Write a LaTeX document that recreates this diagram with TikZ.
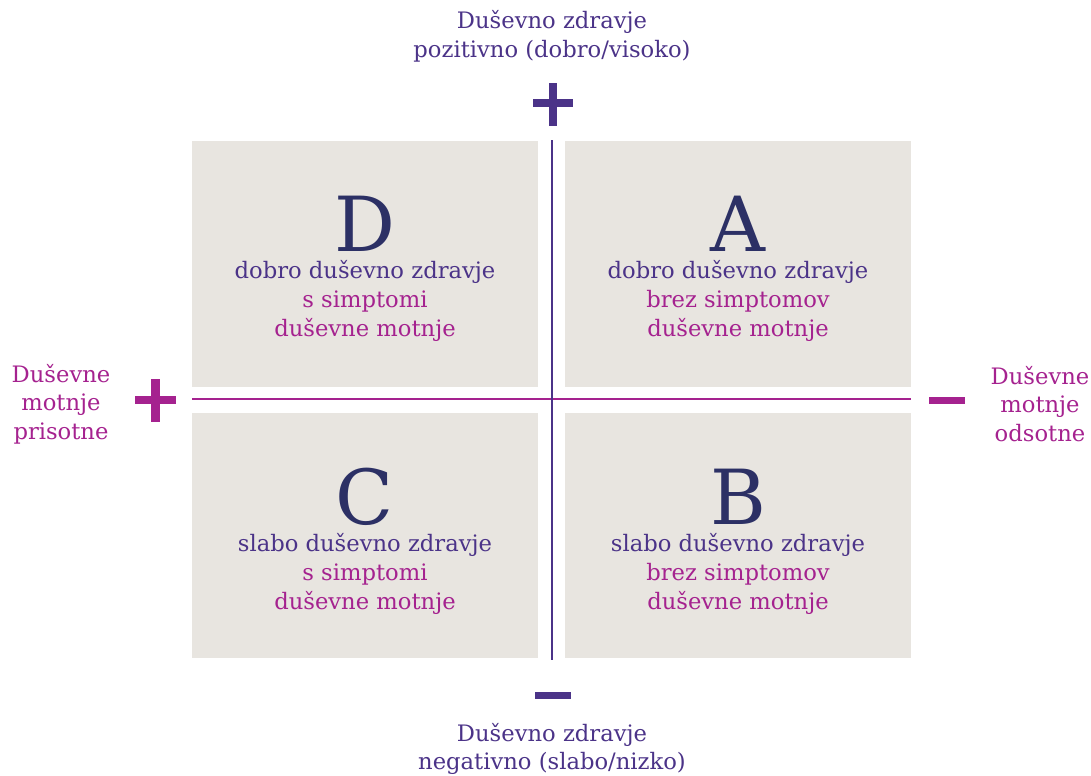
\documentclass[tikz,border=0pt]{standalone}
\usepackage{fontspec}
\setmainfont{DejaVu Serif}
\definecolor{violetT}{HTML}{4B3388}
\definecolor{magT}{HTML}{A5228F}
\definecolor{navyL}{HTML}{2C3065}
\definecolor{boxG}{HTML}{E8E5E0}
\begin{document}
\begin{tikzpicture}[x=0.75pt,y=-0.75pt,
  quad/.style={fill=boxG,draw=none},
  lab/.style={font=\fontsize{17}{21.5}\selectfont,align=center,inner sep=0pt},
  big/.style={font=\fontsize{57}{57}\selectfont,text=navyL,inner sep=0pt,anchor=base}]
\useasboundingbox (0,0) rectangle (1091,775);
% quadrants
\fill[quad] (192,141) rectangle (538,387);
\fill[quad] (565,141) rectangle (911,387);
\fill[quad] (192,413) rectangle (538,658);
\fill[quad] (565,413) rectangle (911,658);
% axes
\coordinate (vt) at (551.7,140);
\coordinate (vb) at (551.7,660);
\coordinate (hl) at (192,399);
\coordinate (hr) at (911,399);
\draw[magT,line width=1.2pt] (hl) -- (hr);
\draw[violetT,line width=1.4pt] (vt) -- (vb);
% signs
\fill[violetT] (533,99) rectangle (573,107);
\fill[violetT] (549,83) rectangle (557,126);
\fill[violetT] (535,692) rectangle (571,699);
\fill[magT] (135,396) rectangle (176,404);
\fill[magT] (151,379) rectangle (160,422);
\fill[magT] (929,397) rectangle (965,404);
% outer labels
\node[lab,text=violetT] (top) at (552,36) {Duševno zdravje\\pozitivno (dobro/visoko)};
\node[lab,text=violetT] (bot) at (552,749) {Duševno zdravje\\negativno (slabo/nizko)};
\node[lab,text=magT] (lft) at (61,404) {Duševne\\motnje\\prisotne};
\node[lab,text=magT] (rgt) at (1040,404) {Duševne\\motnje\\odsotne};
% big letters
\node[big] (D) at (365,251) {D};
\node[big] (A) at (738,251) {A};
\node[big] (C) at (365,524) {C};
\node[big] (B) at (738,524) {B};
% quadrant texts
\node[lab] (tD) at (365,301) {\textcolor{violetT}{dobro duševno zdravje}\\\textcolor{magT}{s simptomi}\\\textcolor{magT}{duševne motnje}};
\node[lab] (tA) at (738,301) {\textcolor{violetT}{dobro duševno zdravje}\\\textcolor{magT}{brez simptomov}\\\textcolor{magT}{duševne motnje}};
\node[lab] (tC) at (365,574) {\textcolor{violetT}{slabo duševno zdravje}\\\textcolor{magT}{s simptomi}\\\textcolor{magT}{duševne motnje}};
\node[lab] (tB) at (738,574) {\textcolor{violetT}{slabo duševno zdravje}\\\textcolor{magT}{brez simptomov}\\\textcolor{magT}{duševne motnje}};
\end{tikzpicture}
\end{document}
